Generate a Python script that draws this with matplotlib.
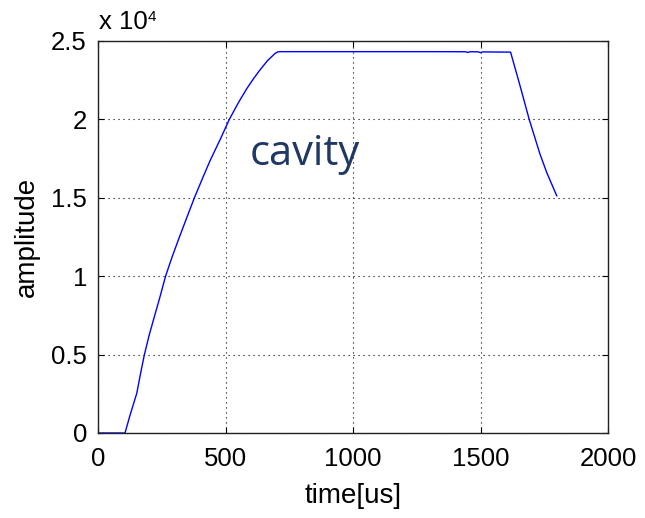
import matplotlib
matplotlib.use("Agg")
import matplotlib.pyplot as plt

# data (time in us, amplitude)
time_us = [0, 60, 106, 125, 152, 167, 182, 200, 221, 240, 265, 290, 315, 345, 378, 410, 439, 480,
           515, 550, 583, 610, 635, 665, 694, 704, 714,
           900, 1100, 1300, 1440, 1450, 1460, 1490, 1500, 1510, 1540, 1618,
           1655, 1691, 1733, 1760, 1799]
amplitude = [0, 0, 0, 1100, 2530, 3800, 5000, 6200, 7420, 8500, 10000, 11200, 12310, 13600,
             15000, 16250, 17350, 18750, 20000, 21050, 21950, 22600, 23150, 23750, 24200, 24300,
             24320,
             24320, 24320, 24320, 24315, 24270, 24315, 24310, 24260, 24305, 24300, 24290,
             22150, 20000, 17800, 16600, 15130]
xticks = [0, 500, 1000, 1500, 2000]
yticks = [0, 5000, 10000, 15000, 20000, 25000]
ytick_labels = ["0", "0.5", "1", "1.5", "2", "2.5"]

plt.rcParams['font.family'] = ['Liberation Sans', 'DejaVu Sans']

fig = plt.figure(figsize=(6.45, 5.18), dpi=100)
ax = fig.add_axes([98/645, 1-433/518, 510/645, 392/518])

ax.plot(time_us, amplitude, color='#0000ff', lw=1.0)
ax.set_xlim(0, 2000)
ax.set_ylim(0, 25000)
ax.set_xticks(xticks)
ax.set_yticks(yticks)
ax.set_yticklabels(ytick_labels)
ax.grid(True, color='black', linestyle=(0, (1, 3.5)), lw=0.8)
ax.tick_params(direction='in', length=4.5, width=0.8, top=True, right=True,
               labelsize=18.5, pad=8)
ax.tick_params(axis='x', pad=10)
for s in ax.spines.values():
    s.set_linewidth(1.0)
    s.set_color('#222222')

ax.set_xlabel("time[us]", fontsize=20, labelpad=9)
ax.set_ylabel("amplitude", fontsize=20, labelpad=8)

fig.text(99/645, 1-29/518, "x 10", fontsize=18.5, ha='left', va='baseline')
fig.text(148/645, 1-21/518, "4", fontsize=11, ha='left', va='baseline')

ax.text(596, 17100, "cavity", fontsize=30, color='#1f3864', family='Open Sans',
        ha='left', va='baseline')

fig.savefig("out.png", dpi=100)
